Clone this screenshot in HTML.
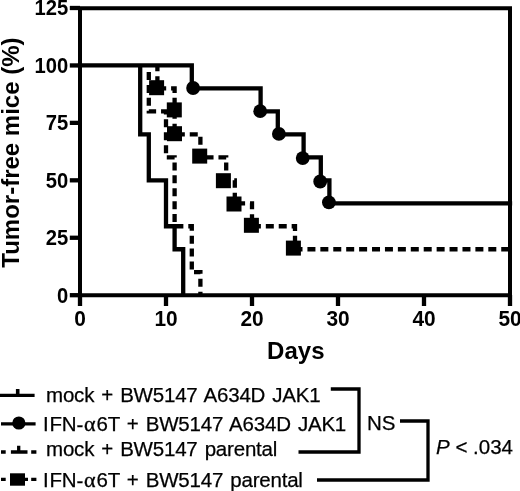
<!DOCTYPE html>
<html><head><meta charset="utf-8"><style>
html,body{margin:0;padding:0;background:#fff;width:520px;height:491px;overflow:hidden}
svg{display:block;will-change:transform}
.s{fill:none;stroke:#000;stroke-width:4.3;stroke-linecap:square;stroke-linejoin:miter}
.b{stroke-linecap:butt}
.d{fill:none;stroke:#000;stroke-width:4.3;stroke-dasharray:8.0 4.92;stroke-dashoffset:2.2;stroke-linecap:butt;stroke-linejoin:miter}
.l{fill:none;stroke:#000;stroke-width:3.3;stroke-linecap:butt}
text{font-family:"Liberation Sans",sans-serif;fill:#000}
.tl{font-weight:bold;font-size:22px}
.ti{font-weight:bold;font-size:24px}
.lg{font-size:20.5px;stroke:#000;stroke-width:0.25;letter-spacing:-0.2px;word-spacing:1.6px}
</style></head><body>
<svg width="520" height="491" viewBox="0 0 520 491">
<path d="M80.0,8.20 H510.0 V295.20 H80.0 Z" class="s" style="stroke-width:4.0"/>
<line x1="69.8" y1="295.20" x2="80" y2="295.20" class="s b"/>
<text transform="translate(68.3,302.60) scale(0.92,1)" class="tl" text-anchor="end">0</text>
<line x1="69.8" y1="237.76" x2="80" y2="237.76" class="s b"/>
<text transform="translate(68.3,245.16) scale(0.92,1)" class="tl" text-anchor="end">25</text>
<line x1="69.8" y1="180.32" x2="80" y2="180.32" class="s b"/>
<text transform="translate(68.3,187.72) scale(0.92,1)" class="tl" text-anchor="end">50</text>
<line x1="69.8" y1="122.88" x2="80" y2="122.88" class="s b"/>
<text transform="translate(68.3,130.28) scale(0.92,1)" class="tl" text-anchor="end">75</text>
<line x1="69.8" y1="65.44" x2="80" y2="65.44" class="s b"/>
<text transform="translate(68.3,72.84) scale(0.92,1)" class="tl" text-anchor="end">100</text>
<line x1="69.8" y1="8.00" x2="80" y2="8.00" class="s b"/>
<text transform="translate(68.3,15.40) scale(0.92,1)" class="tl" text-anchor="end">125</text>
<line x1="80.00" y1="295" x2="80.00" y2="306" class="s b"/>
<text transform="translate(80.00,326.4) scale(0.95,1)" class="tl" text-anchor="middle">0</text>
<line x1="166.00" y1="295" x2="166.00" y2="306" class="s b"/>
<text transform="translate(166.00,326.4) scale(0.95,1)" class="tl" text-anchor="middle">10</text>
<line x1="252.00" y1="295" x2="252.00" y2="306" class="s b"/>
<text transform="translate(252.00,326.4) scale(0.95,1)" class="tl" text-anchor="middle">20</text>
<line x1="338.00" y1="295" x2="338.00" y2="306" class="s b"/>
<text transform="translate(338.00,326.4) scale(0.95,1)" class="tl" text-anchor="middle">30</text>
<line x1="424.00" y1="295" x2="424.00" y2="306" class="s b"/>
<text transform="translate(424.00,326.4) scale(0.95,1)" class="tl" text-anchor="middle">40</text>
<line x1="510.00" y1="295" x2="510.00" y2="306" class="s b"/>
<text transform="translate(510.00,326.4) scale(0.95,1)" class="tl" text-anchor="middle">50</text>
<polyline points="140.20,65.44 140.20,134.37 148.80,134.37 148.80,180.32 166.00,180.32 166.00,226.27 174.60,226.27 174.60,249.25 183.20,249.25 183.20,295.20" class="s" style="stroke-linecap:butt"/>
<polyline points="148.80,65.44 148.80,111.39 166.00,111.39 166.00,157.34 174.60,157.34 174.60,226.27 191.80,226.27 191.80,272.22 200.40,272.22 200.40,295.20" class="d" style="stroke-dashoffset:71.00"/>
<polyline points="157.40,65.44 157.40,88.42 174.60,88.42 174.60,111.39 174.60,134.37 200.40,134.37 200.40,157.34 226.20,157.34 226.20,180.32 234.80,180.32 234.80,203.30 252.00,203.30 252.00,226.27 295.00,226.27 295.00,249.25 510.00,249.25" class="d" style="stroke-dashoffset:79.60"/>
<polyline points="80.00,65.44 191.80,65.44 191.80,88.42 260.60,88.42 260.60,111.39 277.80,111.39 277.80,134.37 303.60,134.37 303.60,157.34 320.80,157.34 320.80,180.32 329.40,180.32 329.40,203.30 510.00,203.30" class="s"/>
<circle cx="193.1" cy="88.0" r="6.9"/>
<circle cx="260.2" cy="111.2" r="6.9"/>
<circle cx="278.9" cy="133.9" r="6.9"/>
<circle cx="302.7" cy="158.1" r="6.9"/>
<circle cx="320.2" cy="181.5" r="6.9"/>
<circle cx="328.9" cy="202.3" r="6.9"/>
<rect x="149.10" y="80.20" width="15.0" height="15.0"/>
<rect x="166.80" y="102.40" width="15.0" height="15.0"/>
<rect x="167.00" y="126.20" width="15.0" height="15.0"/>
<rect x="192.20" y="148.60" width="15.0" height="15.0"/>
<rect x="215.90" y="173.20" width="15.0" height="15.0"/>
<rect x="226.50" y="196.50" width="15.0" height="15.0"/>
<rect x="243.90" y="217.80" width="15.0" height="15.0"/>
<rect x="285.90" y="240.60" width="15.0" height="15.0"/>
<text class="ti" transform="translate(19.2,152.6) rotate(-90)" text-anchor="middle">Tumor-free mice (%)</text>
<text class="ti" x="295.8" y="358.5" text-anchor="middle">Days</text>
<g class="l">
<line x1="0" y1="395.4" x2="34.6" y2="395.4"/>
<line x1="17.7" y1="389" x2="17.7" y2="395" style="stroke-width:3.6"/>
<line x1="1" y1="423.8" x2="35.6" y2="423.8"/>
<path d="M1,452H5.7M10.9,452H27.5M31.2,452H36.4M18.7,445.7V452"/>
<path d="M1,479.3H5.7M25,479.3H28M31.2,479.3H36.4"/>
</g>
<circle cx="18.85" cy="423.0" r="6.6"/>
<rect x="10" y="473.3" width="15" height="12.4"/>
<text class="lg" x="46" y="402">mock + BW5147 A634D JAK1</text>
<text class="lg" x="42.9" y="431">I<tspan dx="1.1">FN</tspan><tspan dy="1.4">-</tspan><tspan dy="-1.4" dx="1" font-family="Liberation Serif" font-size="22px" stroke="#000" stroke-width="0.4">α</tspan><tspan dx="1.2">6T + BW5147 A634D JAK1</tspan></text>
<text class="lg" x="46" y="456">mock + BW5147 parental</text>
<text class="lg" x="42.9" y="486.5">I<tspan dx="1.1">FN</tspan><tspan dy="1.4">-</tspan><tspan dy="-1.4" dx="1" font-family="Liberation Serif" font-size="22px" stroke="#000" stroke-width="0.4">α</tspan><tspan dx="1.2">6T + BW5147 parental</tspan></text>
<path d="M330.8,389 H359 V452 H298.5" class="l"/>
<path d="M400,421 H428 V480 H317" class="l"/>
<text class="lg" x="367" y="430.4" style="letter-spacing:0">NS</text>
<text class="lg" x="436" y="454.2" style="letter-spacing:0;word-spacing:0"><tspan font-style="italic">P</tspan> &lt; .034</text>
</svg>
</body></html>
